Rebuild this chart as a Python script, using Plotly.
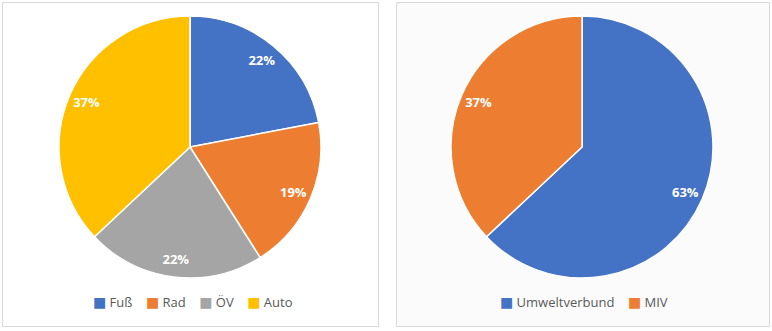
import plotly.graph_objects as go

W, H = 772, 331

left_labels = ["Fuß", "Rad", "ÖV", "Auto"]
left_values = [22, 19, 22, 37]
left_colors = ["#4472C4", "#ED7D31", "#A5A5A5", "#FFC000"]

right_labels = ["Umweltverbund", "MIV"]
right_values = [63, 37]
right_colors = ["#4472C4", "#ED7D31"]

def px_x(v):
    return v / W

def px_y(v):
    return 1 - v / H

L_dom = dict(x=[px_x(59), px_x(321)], y=[px_y(278), px_y(16)])
R_dom = dict(x=[px_x(451), px_x(713)], y=[px_y(278), px_y(16)])

FONT = "Open Sans"
fig = go.Figure()

def add_pie(labels, values, colors, dom):
    fig.add_trace(go.Pie(
        labels=labels, values=values, sort=False, direction="clockwise", rotation=0,
        marker=dict(colors=colors, line=dict(color="white", width=1.5)),
        textinfo="none", domain=dom, showlegend=False, hoverinfo="label+percent",
    ))
    fig.add_trace(go.Pie(
        labels=labels, values=values, sort=False, direction="clockwise", rotation=0,
        hole=0.72, marker=dict(colors=["rgba(0,0,0,0)"] * len(labels), line=dict(width=0)),
        textinfo="percent", texttemplate="%{percent:.0%}", textposition="inside",
        insidetextorientation="horizontal",
        textfont=dict(color="white", size=13, family=FONT, weight="bold"),
        domain=dom, showlegend=False, hoverinfo="skip",
    ))

add_pie(left_labels, left_values, left_colors, L_dom)
add_pie(right_labels, right_values, right_colors, R_dom)

def legend_text(labels, colors):
    parts = []
    for lab, col in zip(labels, colors):
        parts.append(f"<span style='color:{col};font-size:14px;font-family:DejaVu Sans'>■</span> {lab}")
    return "&nbsp;&nbsp;&nbsp;&nbsp;".join(parts)

fig.update_layout(
    width=W, height=H,
    margin=dict(l=0, r=0, t=0, b=0),
    paper_bgcolor="white",
    shapes=[
        dict(type="rect", xref="paper", yref="paper",
             x0=px_x(2.5), x1=px_x(378.5), y0=px_y(326.5), y1=px_y(2.5),
             line=dict(color="#D9D9D9", width=1), fillcolor="white", layer="below"),
        dict(type="rect", xref="paper", yref="paper",
             x0=px_x(396.5), x1=px_x(769.5), y0=px_y(326.5), y1=px_y(2.5),
             line=dict(color="#D9D9D9", width=1), fillcolor="#FBFBFB", layer="below"),
    ],
    annotations=[
        dict(text=legend_text(left_labels, left_colors), xref="paper", yref="paper",
             x=px_x(193), y=px_y(302), xanchor="center", yanchor="middle", showarrow=False,
             font=dict(family=FONT, size=13, color="#595959")),
        dict(text=legend_text(right_labels, right_colors), xref="paper", yref="paper",
             x=px_x(584), y=px_y(302), xanchor="center", yanchor="middle", showarrow=False,
             font=dict(family=FONT, size=13, color="#595959")),
    ],
)

fig.write_html("out.html")
